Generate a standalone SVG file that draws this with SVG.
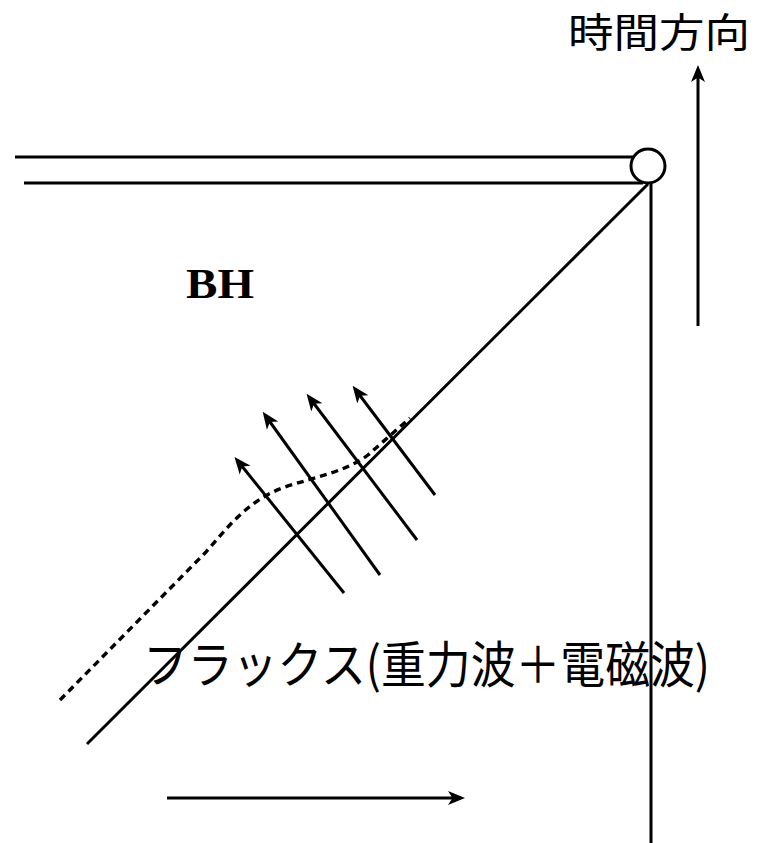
<svg xmlns="http://www.w3.org/2000/svg" width="760" height="843" viewBox="0 0 760 843">
<style>
.ln{stroke:#000;stroke-width:3;fill:none}
.ar{stroke:#000;stroke-width:3;fill:none;marker-end:url(#ah)}
.dot{stroke:#000;stroke-width:3.4;fill:none;stroke-dasharray:7 5}
.jp{font-family:"Noto Sans CJK JP","Noto Sans CJK SC",sans-serif;fill:#000}
.bh{font-family:"Liberation Serif",serif;font-weight:bold;fill:#000}
</style>
<defs>
<marker id="ah" viewBox="0 0 17 16" refX="13" refY="8" markerWidth="17" markerHeight="16" markerUnits="userSpaceOnUse" orient="auto">
<path d="M0,1 L17,8 L0,15 L4.5,8 z" fill="#000"/>
</marker>
</defs>
<rect width="760" height="843" fill="#fff"/>
<g id="structure">
<line class="ln" x1="15" y1="157" x2="633" y2="157"/>
<line class="ln" x1="24" y1="183" x2="643" y2="183"/>
<line class="ln" x1="648" y1="184" x2="87" y2="744"/>
<line class="ln" x1="651" y1="183" x2="651" y2="843"/>
</g>
<g id="point">
<circle cx="648" cy="166" r="17" fill="#fff" stroke="#000" stroke-width="3"/>
</g>
<g id="connectors">
<line class="ar" x1="698" y1="326" x2="698" y2="69"/>
<line class="ar" x1="167" y1="798" x2="461" y2="798"/>
<line class="ar" x1="344" y1="593" x2="237" y2="460"/>
<line class="ar" x1="380" y1="575" x2="265" y2="415"/>
<line class="ar" x1="417" y1="540" x2="309" y2="397"/>
<line class="ar" x1="435" y1="495" x2="355" y2="389"/>
<path class="dot" d="M60,700 L205,553 C228,527 248,500 285,487 C315,477 345,472 368,455 L410,418"/>
</g>
<g id="labels">
<text class="jp" x="568" y="47" font-size="40" textLength="182" lengthAdjust="spacingAndGlyphs">時間方向</text>
<text class="bh" x="186" y="298" font-size="42" textLength="68" lengthAdjust="spacingAndGlyphs">BH</text>
<text class="jp" x="143" y="683" font-size="50" textLength="567" lengthAdjust="spacingAndGlyphs">フラックス(重力波＋電磁波)</text>
</g>
</svg>
